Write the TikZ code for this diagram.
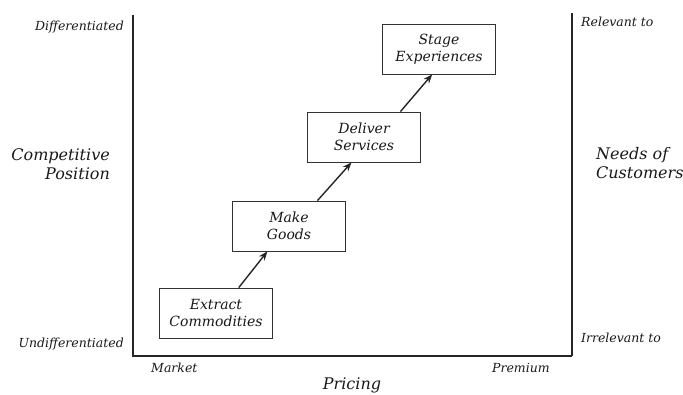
\documentclass[tikz,border=0pt]{standalone}
\usepackage{fontspec}
\setmainfont{DejaVu Serif}
\usetikzlibrary{arrows.meta,calc}

\tikzset{
  stage/.style={draw=black!80, line width=0.8pt, fill=white, minimum width=113pt,
    minimum height=50pt, align=center, inner sep=0pt, text=black!90,
    font=\itshape\fontsize{14}{17}\selectfont},
  lbl/.style={inner sep=0pt, text=black!90, font=\itshape\fontsize{12.5}{14}\selectfont},
  biglbl/.style={inner sep=0pt, text=black!90, font=\itshape\fontsize{16}{19}\selectfont},
  axis/.style={draw=black!85, line width=2.4pt},
  arr/.style={-{Stealth[length=9pt,width=7pt]}, line width=1.4pt, draw=black!85},
}

\begin{document}
\begin{tikzpicture}[x=1pt, y=-1pt]
    \useasboundingbox (0,0) rectangle (683,394);

    % frame of the chart
    \draw[axis] (133,15) -- (133,356) -- (572,356);
    \draw[axis, line width=2pt] (572,356) -- (572,13);

    % the four stages
    \node[stage] (extract) at (216,313) {Extract\\Commodities};
    \node[stage] (goods)   at (289,226) {Make\\Goods};
    \node[stage] (service) at (364,137) {Deliver\\Services};
    \node[stage] (exper)   at (439,49)  {Stage\\Experiences};

    \draw[arr] ($(extract.north west)!0.7!(extract.north east)$) -- ($(goods.south west)!0.31!(goods.south east)$);
    \draw[arr] ($(goods.north west)!0.75!(goods.north east)$) -- ($(service.south west)!0.39!(service.south east)$);
    \draw[arr] ($(service.north west)!0.82!(service.north east)$) -- ($(exper.south west)!0.44!(exper.south east)$);

    % left axis
    \node[lbl, anchor=east] (diff) at (124,27) {Differentiated};
    \node[lbl, anchor=east] (undiff) at (124,344) {Undifferentiated};
    \node[biglbl, anchor=east, align=right] (comp) at (110,164) {Competitive\\Position};

    % bottom axis
    \node[lbl, anchor=west] (market) at (151,368) {Market};
    \node[lbl, anchor=west] (premium) at (492,368) {Premium};
    \node[biglbl] (pricing) at (352,385) {Pricing};

    % right axis
    \node[lbl, anchor=west] (rel) at (581,22) {Relevant to};
    \node[lbl, anchor=west] (irrel) at (581,338) {Irrelevant to};
    \node[biglbl, anchor=west, align=left] (needs) at (596,163) {Needs of\\Customers};
\end{tikzpicture}
\end{document}
